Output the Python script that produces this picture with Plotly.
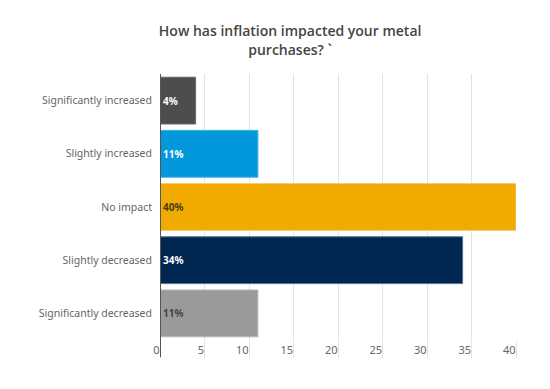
import plotly.graph_objects as go

categories = ["Significantly increased", "Slightly increased", "No impact",
              "Slightly decreased", "Significantly decreased"]
values = [4, 11, 40, 34, 11]
labels = ["4%", "11%", "40%", "34%", "11%"]
bar_colors = ["#4d4d4d", "#0398dc", "#f1aa00", "#002652", "#9a9a9a"]
edge_colors = ["#6a6a6a", "#3ab0e6", "#f6cd6a", "#5a6e8c", "#b8b8b8"]
text_colors = ["#ffffff", "#ffffff", "#4a3a10", "#ffffff", "#444444"]
tick_vals = [0, 5, 10, 15, 20, 25, 30, 35, 40]
title_text = "How has inflation impacted your metal<br>purchases? `"

fig = go.Figure(go.Bar(
    y=categories, x=values, orientation="h",
    marker=dict(color=bar_colors, line=dict(color=edge_colors, width=1)),
    text=labels, textposition="inside", insidetextanchor="start",
    textfont=dict(family="Noto Sans", size=10, color=text_colors, weight="bold"),
    cliponaxis=False,
))

fig.update_layout(
    width=550, height=389,
    margin=dict(l=152, r=42, t=66, b=57),
    paper_bgcolor="white", plot_bgcolor="white",
    bargap=0.12, showlegend=False,
    title=dict(text=title_text, x=0.513, xanchor="center", y=0.927, yanchor="top",
               font=dict(family="Open Sans", size=14, color="#444444", weight=600)),
    xaxis=dict(range=[0, 40], tickvals=tick_vals, showgrid=True, gridcolor="#e3e3e3",
               gridwidth=1, zeroline=False, ticks="outside", ticklen=17,
               tickcolor="#e3e3e3", ticklabelposition="outside left",
               tickfont=dict(family="Noto Sans", size=11, color="#666666"),
               showline=False, automargin=False),
    yaxis=dict(autorange="reversed", showgrid=False, zeroline=False,
               ticks="", ticklabelstandoff=7, automargin=False,
               tickfont=dict(family="Noto Sans", size=10.5, color="#666666")),
    font=dict(family="Noto Sans"),
)

fig.add_shape(type="line", xref="x", yref="paper", x0=0, x1=0, y0=-0.065, y1=1,
              line=dict(color="#555555", width=2))

fig.write_html("out.html")
